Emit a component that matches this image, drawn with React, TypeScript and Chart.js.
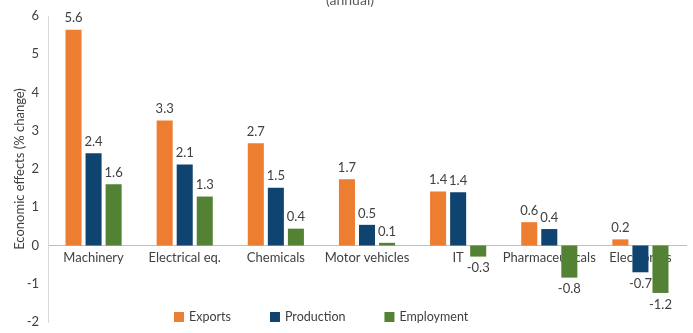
import React, { useEffect, useRef } from "react";
import { Chart, registerables } from "chart.js";

Chart.register(...registerables);

const categories = [
  "Machinery",
  "Electrical eq.",
  "Chemicals",
  "Motor vehicles",
  "IT",
  "Pharmaceuticals",
  "Electronics",
];
const seriesNames = ["Exports", "Production", "Employment"];
const exportsValues = [5.64, 3.27, 2.67, 1.73, 1.41, 0.61, 0.16];
const productionValues = [2.41, 2.12, 1.51, 0.54, 1.39, 0.43, -0.7];
const employmentValues = [1.6, 1.28, 0.44, 0.07, -0.29, -0.84, -1.24];
const yMin = -2;
const yMax = 6;
const yStep = 1;
const titleText = "(annual)";
const yAxisTitle = "Economic effects (% change)";

const colors = ["#ED7D31", "#0F4471", "#548235"];
const FONT = "Lato";

const valueLabels = {
  id: "valueLabels",
  afterDatasetsDraw(chart: any) {
    const ctx = chart.ctx;
    ctx.save();
    ctx.font = `13px ${FONT}`;
    ctx.fillStyle = "#404040";
    ctx.textAlign = "center";
    chart.data.datasets.forEach((ds: any, i: number) => {
      const meta = chart.getDatasetMeta(i);
      meta.data.forEach((bar: any, j: number) => {
        const v = ds.data[j];
        const txt = v.toFixed(1);
        if (v >= 0) {
          ctx.textBaseline = "bottom";
          ctx.fillText(txt, bar.x, bar.y - 5);
        } else {
          ctx.textBaseline = "top";
          ctx.fillText(txt, bar.x, bar.y + 5);
        }
      });
    });
    ctx.restore();
  },
};

const customLegend = {
  id: "customLegend",
  afterDraw(chart: any) {
    const ctx = chart.ctx;
    ctx.save();
    ctx.font = `12.5px ${FONT}`;
    ctx.textBaseline = "middle";
    ctx.textAlign = "left";
    let x = 174;
    const y = 317;
    chart.data.datasets.forEach((ds: any) => {
      ctx.fillStyle = ds.backgroundColor;
      ctx.fillRect(x, y - 5, 10, 10);
      ctx.fillStyle = "#404040";
      ctx.fillText(ds.label, x + 15, y);
      x += 15 + ctx.measureText(ds.label).width + 39;
    });
    ctx.restore();
  },
};

const topTitle = {
  id: "topTitle",
  afterDraw(chart: any) {
    const ctx = chart.ctx;
    ctx.save();
    ctx.font = `14px ${FONT}`;
    ctx.fillStyle = "#595959";
    ctx.textAlign = "center";
    ctx.textBaseline = "alphabetic";
    ctx.fillText(titleText, 350, 5);
    ctx.restore();
  },
};

export default function App() {
  const ref = useRef<HTMLCanvasElement | null>(null);

  useEffect(() => {
    document.body.style.margin = "0";
    const canvas = ref.current;
    if (!canvas) return;
    const seriesValues = [exportsValues, productionValues, employmentValues];
    const chart = new Chart(canvas, {
      type: "bar",
      data: {
        labels: categories,
        datasets: seriesNames.map((name, i) => ({
          label: name,
          data: seriesValues[i],
          backgroundColor: colors[i],
          borderWidth: 0,
          categoryPercentage: 0.66,
          barPercentage: 0.8,
        })),
      },
      options: {
        responsive: false,
        animation: false,
        devicePixelRatio: 1,
        layout: { padding: { top: 16, right: 7, bottom: 11, left: 0 } },
        plugins: {
          legend: { display: false },
          tooltip: { enabled: false },
          title: { display: false },
        },
        scales: {
          x: {
            position: { y: 0 } as any,
            afterFit(scale: any) {
              scale.height = 0;
              scale.paddingTop = 0;
              scale.paddingBottom = 0;
              scale.paddingLeft = 0;
              scale.paddingRight = 0;
            },
            grid: { display: false, drawTicks: false },
            border: { display: true, color: "#BFBFBF", width: 1 },
            ticks: {
              color: "#404040",
              font: { family: FONT, size: 13 },
              padding: 5,
              autoSkip: false,
              maxRotation: 0,
              minRotation: 0,
            },
          },
          y: {
            min: yMin,
            max: yMax,
            afterFit(scale: any) {
              scale.width = 48;
              scale.paddingTop = 0;
              scale.paddingBottom = 0;
            },
            grid: { display: false, drawTicks: false },
            border: { display: true, color: "#D9D9D9", width: 1 },
            ticks: {
              stepSize: yStep,
              color: "#404040",
              font: { family: FONT, size: 13 },
              padding: 9,
            },
            title: {
              display: true,
              text: yAxisTitle,
              color: "#404040",
              font: { family: FONT, size: 13 },
              padding: { top: 12, bottom: 0 },
            },
          },
        },
      },
      plugins: [valueLabels, customLegend, topTitle],
    });
    return () => chart.destroy();
  }, []);

  return (
    <div style={{ position: "absolute", left: 0, top: 0, width: 693, height: 333 }}>
      <canvas ref={ref} width={693} height={333} style={{ width: 693, height: 333 }} />
    </div>
  );
}
